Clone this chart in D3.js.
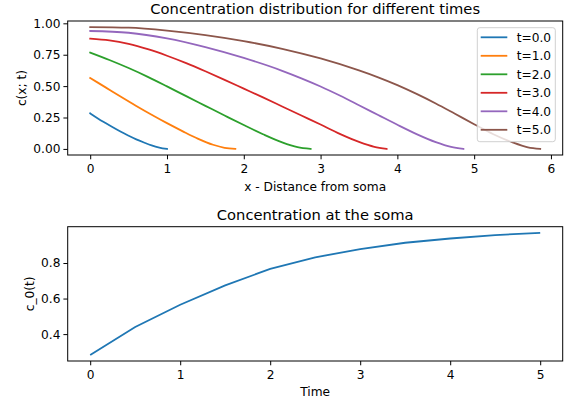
<!DOCTYPE html>
<html><head><meta charset="utf-8">
<script src="https://cdn.jsdelivr.net/npm/d3@7/dist/d3.min.js"></script>
<style>
body{margin:0;background:#fff;}
text{font-family:"DejaVu Sans",sans-serif;fill:#000;}
</style></head>
<body><svg id="c" width="574" height="403"></svg>
<script>
// ---- data ----
const seriesLabels = ["t=0.0","t=1.0","t=2.0","t=3.0","t=4.0","t=5.0"];
const colors = ["#1f77b4","#ff7f0e","#2ca02c","#d62728","#9467bd","#8c564b"];
const x_t0 = [0, 0.1, 0.2, 0.3, 0.4, 0.5, 0.6, 0.7, 0.8, 0.9, 1.0];
const c_t0 = [0.283, 0.243, 0.206, 0.17, 0.136, 0.105, 0.076, 0.051, 0.028, 0.011, 0];
const x_t1 = [0, 0.2, 0.4, 0.6, 0.8, 1.0, 1.2, 1.4, 1.6, 1.75, 1.89];
const c_t1 = [0.565, 0.49, 0.415, 0.342, 0.272, 0.205, 0.142, 0.082, 0.033, 0.009, 0];
const x_t2 = [0, 0.25, 0.5, 0.75, 1.0, 1.25, 1.5, 1.75, 2.0, 2.25, 2.5, 2.7, 2.87];
const c_t2 = [0.767, 0.708, 0.644, 0.574, 0.498, 0.42, 0.343, 0.266, 0.19, 0.117, 0.052, 0.014, 0];
const x_t3 = [0, 0.25, 0.5, 0.75, 1.0, 1.25, 1.5, 1.75, 2.0, 2.25, 2.5, 2.75, 3.0, 3.25, 3.5, 3.7, 3.86];
const c_t3 = [0.878, 0.864, 0.836, 0.794, 0.742, 0.683, 0.618, 0.55, 0.48, 0.41, 0.338, 0.266, 0.194, 0.12, 0.056, 0.017, 0];
const x_t4 = [0, 0.5, 1, 1.5, 2, 2.5, 2.75, 3.0, 3.25, 3.5, 3.75, 4.0, 4.25, 4.5, 4.7, 4.86];
const c_t4 = [0.939, 0.925, 0.88, 0.81, 0.724, 0.622, 0.562, 0.497, 0.425, 0.348, 0.27, 0.192, 0.118, 0.054, 0.016, 0];
const x_t5 = [0, 0.5, 1, 1.5, 2, 2.5, 3, 3.5, 3.75, 4.0, 4.25, 4.5, 4.75, 5.0, 5.25, 5.5, 5.7, 5.86];
const c_t5 = [0.97, 0.965, 0.942, 0.906, 0.858, 0.797, 0.72, 0.625, 0.57, 0.508, 0.438, 0.362, 0.28, 0.197, 0.117, 0.052, 0.013, 0];
const xs = [x_t0, x_t1, x_t2, x_t3, x_t4, x_t5];
const cs = [c_t0, c_t1, c_t2, c_t3, c_t4, c_t5];

const times = [0, 0.5, 1, 1.5, 2, 2.5, 3, 3.5, 4, 4.5, 5];
const c0 = [0.283, 0.44, 0.565, 0.674, 0.767, 0.832, 0.878, 0.914, 0.938, 0.957, 0.97];

const topXTicks = [0,1,2,3,4,5,6];
const topYTicks = [0, 0.25, 0.5, 0.75, 1.0];
const botXTicks = [0,1,2,3,4,5];
const botYTicks = [0.4, 0.6, 0.8];

// ---- layout ----
const svg = d3.select("#c");
const L = 67.7, R = 562.7;
const top1 = 21, bot1 = 155, top2 = 226.7, bot2 = 361;
const FS = 12.2, TFS = 14.7;

function pad(ext){ const d = ext[1]-ext[0]; return [ext[0]-0.05*d, ext[1]+0.05*d]; }

const allX = xs.flat(), allC = cs.flat();
const x1 = d3.scaleLinear().domain(pad(d3.extent(allX))).range([L, R]);
const y1 = d3.scaleLinear().domain(pad(d3.extent(allC))).range([bot1, top1]);
const x2 = d3.scaleLinear().domain(pad(d3.extent(times))).range([L, R]);
const y2 = d3.scaleLinear().domain(pad(d3.extent(c0))).range([bot2, top2]);

function drawAxes(xS, yS, top, bot, xt, yt, xfmt, yfmt){
  const gx = svg.append("g").attr("transform",`translate(0,${bot})`)
    .call(d3.axisBottom(xS).tickValues(xt).tickSize(4.3).tickPadding(4.8).tickFormat(xfmt));
  const gy = svg.append("g").attr("transform",`translate(${L},0)`)
    .call(d3.axisLeft(yS).tickValues(yt).tickSize(4.3).tickPadding(3).tickFormat(yfmt));
  [gx,gy].forEach(g=>{
    g.select(".domain").remove();
    g.selectAll(".tick line").attr("stroke","#000").attr("stroke-width",1);
    g.selectAll(".tick text").attr("font-size",FS+"px").attr("fill","#000")
      .style("font-family","'DejaVu Sans',sans-serif");
  });
  svg.append("rect").attr("x",L).attr("y",top).attr("width",R-L).attr("height",bot-top)
    .attr("fill","none").attr("stroke","#000").attr("stroke-width",1);
}

// ---- top plot ----
const line1 = d3.line().x(d=>x1(d[0])).y(d=>y1(d[1])).curve(d3.curveMonotoneX);
xs.forEach((xa,i)=>{
  const pts = xa.map((v,j)=>[v, cs[i][j]]);
  svg.append("path").attr("d", line1(pts)).attr("fill","none")
    .attr("stroke", colors[i]).attr("stroke-width",1.8).attr("stroke-linecap","square");
});
drawAxes(x1, y1, top1, bot1, topXTicks, topYTicks, d3.format("d"), d3.format(".2f"));

svg.append("text").attr("x",(L+R)/2).attr("y",14).attr("text-anchor","middle")
  .attr("font-size",TFS+"px").text("Concentration distribution for different times");
svg.append("text").attr("x",(L+R)/2).attr("y",191).attr("text-anchor","middle")
  .attr("font-size",FS+"px").text("x - Distance from soma");
svg.append("text").attr("transform",`translate(25.5,${(top1+bot1)/2}) rotate(-90)`)
  .attr("text-anchor","middle").attr("font-size",FS+"px").text("c(x; t)");

// legend
const lg = svg.append("g");
lg.append("rect").attr("x",477.3).attr("y",27.7).attr("width",78).attr("height",114)
  .attr("rx",2.5).attr("fill","#fff").attr("fill-opacity",0.8)
  .attr("stroke","#d0d0d0").attr("stroke-width",1);
seriesLabels.forEach((s,i)=>{
  const yy = 37.3 + 18.5*i;
  lg.append("line").attr("x1",480.7).attr("x2",507.3).attr("y1",yy).attr("y2",yy)
    .attr("stroke",colors[i]).attr("stroke-width",1.8);
  lg.append("text").attr("x",516.7).attr("y",yy+4.4).attr("font-size",FS+"px").text(s);
});

// ---- bottom plot ----
const line2 = d3.line().x((d,i)=>x2(times[i])).y(d=>y2(d));
svg.append("path").attr("d", line2(c0)).attr("fill","none")
  .attr("stroke", colors[0]).attr("stroke-width",1.8);
drawAxes(x2, y2, top2, bot2, botXTicks, botYTicks, d3.format("d"), d3.format(".1f"));

svg.append("text").attr("x",(L+R)/2).attr("y",219.5).attr("text-anchor","middle")
  .attr("font-size",TFS+"px").text("Concentration at the soma");
svg.append("text").attr("x",(L+R)/2).attr("y",396).attr("text-anchor","middle")
  .attr("font-size",FS+"px").text("Time");
svg.append("text").attr("transform",`translate(34,${(top2+bot2)/2}) rotate(-90)`)
  .attr("text-anchor","middle").attr("font-size",FS+"px").text("c_0(t)");
</script></body></html>
